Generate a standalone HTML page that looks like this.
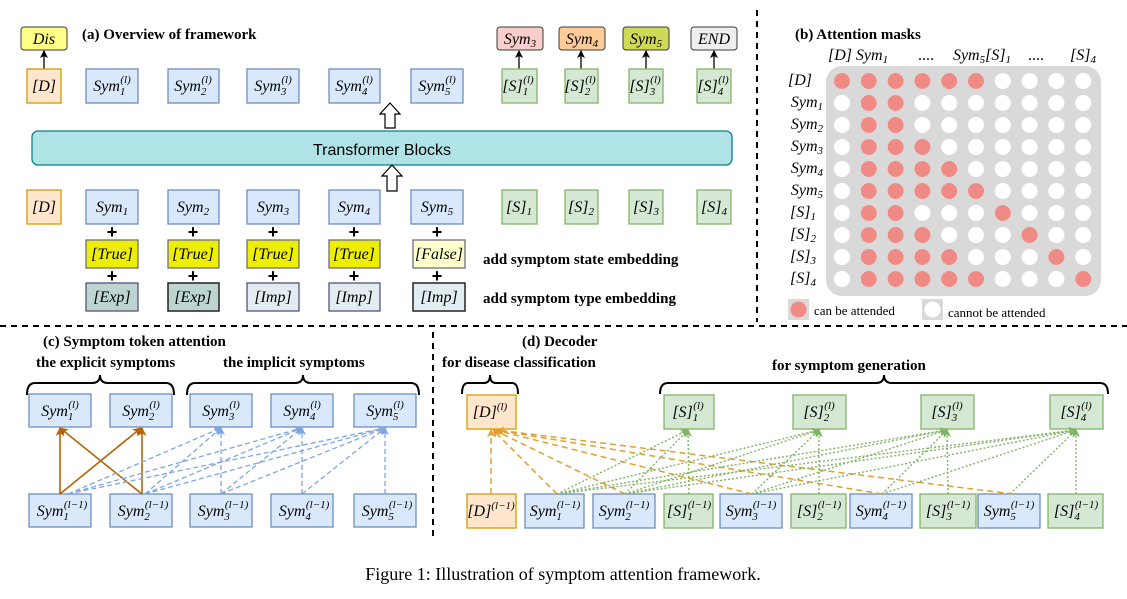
<!DOCTYPE html>
<html><head><meta charset="utf-8"><style>
html,body{margin:0;padding:0;background:#fff}
svg{display:block}
.m{font-family:"Liberation Serif",serif;font-style:italic;font-size:16px;text-anchor:middle}
.s{font-size:11px}
.bt{font-family:"Liberation Serif",serif;font-weight:bold;font-size:15px}
.b{fill:#dae8fc;stroke:#6c8ebf;stroke-width:1.3}
.o{fill:#ffe6cc;stroke:#d79b00;stroke-width:1.3}
.g{fill:#d5e8d4;stroke:#82b366;stroke-width:1.3}
.br{fill:none;stroke:#000;stroke-width:2}
.pk{fill:#ef8a85}
</style></head><body>
<svg width="1127" height="599" viewBox="0 0 1127 599" xmlns="http://www.w3.org/2000/svg">
<defs>
<marker id="ak" markerWidth="8" markerHeight="8" refX="7" refY="4" orient="auto" markerUnits="userSpaceOnUse"><path d="M0,0 L8,4 L0,8 L2,4z" fill="#000"/></marker>
<marker id="abr" markerWidth="9" markerHeight="9" refX="8" refY="4.5" orient="auto" markerUnits="userSpaceOnUse"><path d="M0,0 L9,4.5 L0,9 L2.5,4.5z" fill="#b46504"/></marker>
<marker id="abl" markerWidth="8" markerHeight="8" refX="7" refY="4" orient="auto" markerUnits="userSpaceOnUse"><path d="M0,0 L8,4 L0,8 L2,4z" fill="#7ea6e0"/></marker>
<marker id="aor" markerWidth="8" markerHeight="8" refX="7" refY="4" orient="auto" markerUnits="userSpaceOnUse"><path d="M0,0 L8,4 L0,8 L2,4z" fill="#e0a030"/></marker>
<marker id="agr" markerWidth="8" markerHeight="8" refX="7" refY="4" orient="auto" markerUnits="userSpaceOnUse"><path d="M0,0 L8,4 L0,8 L2,4z" fill="#82b366"/></marker>
<pattern id="wc" patternUnits="userSpaceOnUse" x="828.6" y="70" width="26.8" height="22"><circle cx="13.4" cy="11" r="8" fill="#fff"/></pattern>
</defs>

<line x1="757" y1="10" x2="757" y2="322" stroke="#000" stroke-width="2" stroke-dasharray="6,5"/>
<line x1="0" y1="326" x2="1127" y2="326" stroke="#000" stroke-width="2" stroke-dasharray="6,5"/>
<line x1="433" y1="332" x2="433" y2="537" stroke="#000" stroke-width="2" stroke-dasharray="6,5"/>

<text class="bt" x="82" y="39" font-size="16">(a) Overview of framework</text>
<rect x="21" y="27" width="46" height="23" rx="3" fill="#ffff88" stroke="#36393d"/>
<text class="m" x="44" y="44">Dis</text>
<line x1="44" y1="69" x2="44" y2="51" stroke="#000" stroke-width="1.3" marker-end="url(#ak)"/>

<rect x="497" y="27" width="46" height="23" rx="3" fill="#f8cecc" stroke="#36393d"/>
<text class="m" x="520" y="44">Sym<tspan class="s" dy="3">3</tspan></text>
<rect x="559" y="27" width="46" height="23" rx="3" fill="#ffcc99" stroke="#36393d"/>
<text class="m" x="582" y="44">Sym<tspan class="s" dy="3">4</tspan></text>
<rect x="623" y="27" width="46" height="23" rx="3" fill="#cdd957" stroke="#36393d"/>
<text class="m" x="646" y="44">Sym<tspan class="s" dy="3">5</tspan></text>
<rect x="691" y="27" width="46" height="23" rx="3" fill="#eeeeee" stroke="#36393d"/>
<text class="m" x="714" y="44">END</text>
<g stroke="#000" stroke-width="1.3">
<line x1="519" y1="69" x2="519" y2="51" marker-end="url(#ak)"/>
<line x1="581" y1="69" x2="581" y2="51" marker-end="url(#ak)"/>
<line x1="646" y1="69" x2="646" y2="51" marker-end="url(#ak)"/>
<line x1="714" y1="69" x2="714" y2="51" marker-end="url(#ak)"/>
</g>

<rect class="o" x="27" y="69" width="34" height="34"/>
<text class="m" x="44" y="91" font-style="normal">[<tspan font-style="italic">D</tspan>]</text>
<rect class="b" x="86" y="69" width="52" height="34"/>
<text class="m" x="112" y="91">Sym<tspan class="s" dy="4">1</tspan><tspan class="s" dx="-5" dy="-12">(l)</tspan></text>
<rect class="b" x="168" y="69" width="51" height="34"/>
<text class="m" x="193" y="91">Sym<tspan class="s" dy="4">2</tspan><tspan class="s" dx="-5" dy="-12">(l)</tspan></text>
<rect class="b" x="247" y="69" width="52" height="34"/>
<text class="m" x="273" y="91">Sym<tspan class="s" dy="4">3</tspan><tspan class="s" dx="-5" dy="-12">(l)</tspan></text>
<rect class="b" x="329" y="69" width="51" height="34"/>
<text class="m" x="354" y="91">Sym<tspan class="s" dy="4">4</tspan><tspan class="s" dx="-5" dy="-12">(l)</tspan></text>
<rect class="b" x="411" y="69" width="52" height="34"/>
<text class="m" x="437" y="91">Sym<tspan class="s" dy="4">5</tspan><tspan class="s" dx="-5" dy="-12">(l)</tspan></text>
<rect class="g" x="502" y="69" width="35" height="34"/>
<text class="m" x="518" y="91">[S]<tspan class="s" dy="4">1</tspan><tspan class="s" dx="-5" dy="-12">(l)</tspan></text>
<rect class="g" x="565" y="69" width="33" height="34"/>
<text class="m" x="580" y="91">[S]<tspan class="s" dy="4">2</tspan><tspan class="s" dx="-5" dy="-12">(l)</tspan></text>
<rect class="g" x="629" y="69" width="34" height="34"/>
<text class="m" x="645" y="91">[S]<tspan class="s" dy="4">3</tspan><tspan class="s" dx="-5" dy="-12">(l)</tspan></text>
<rect class="g" x="697" y="69" width="34" height="34"/>
<text class="m" x="713" y="91">[S]<tspan class="s" dy="4">4</tspan><tspan class="s" dx="-5" dy="-12">(l)</tspan></text>

<rect x="32" y="131" width="700" height="34" rx="6" fill="#b0e3e6" stroke="#0e8088" stroke-width="1.3"/>
<text x="382" y="155" text-anchor="middle" font-family="Liberation Sans,sans-serif" font-size="16">Transformer Blocks</text>
<path d="M390,103 L400,114 L395,114 L395,128 L385,128 L385,114 L380,114z" fill="#fff" stroke="#000" stroke-width="1.2"/>
<path d="M392,165 L402,176 L397,176 L397,191 L387,191 L387,176 L382,176z" fill="#fff" stroke="#000" stroke-width="1.2"/>

<rect class="o" x="27" y="190" width="34" height="34"/>
<text class="m" x="44" y="212" font-style="normal">[<tspan font-style="italic">D</tspan>]</text>
<rect class="b" x="86" y="190" width="52" height="34"/>
<text class="m" x="112" y="212">Sym<tspan class="s" dy="3">1</tspan></text>
<rect class="b" x="168" y="190" width="51" height="34"/>
<text class="m" x="193" y="212">Sym<tspan class="s" dy="3">2</tspan></text>
<rect class="b" x="247" y="190" width="52" height="34"/>
<text class="m" x="273" y="212">Sym<tspan class="s" dy="3">3</tspan></text>
<rect class="b" x="329" y="190" width="51" height="34"/>
<text class="m" x="354" y="212">Sym<tspan class="s" dy="3">4</tspan></text>
<rect class="b" x="411" y="190" width="52" height="34"/>
<text class="m" x="437" y="212">Sym<tspan class="s" dy="3">5</tspan></text>
<rect class="g" x="502" y="190" width="35" height="34"/>
<text class="m" x="519" y="212">[S]<tspan class="s" dy="3">1</tspan></text>
<rect class="g" x="565" y="190" width="33" height="34"/>
<text class="m" x="581" y="212">[S]<tspan class="s" dy="3">2</tspan></text>
<rect class="g" x="629" y="190" width="34" height="34"/>
<text class="m" x="646" y="212">[S]<tspan class="s" dy="3">3</tspan></text>
<rect class="g" x="697" y="190" width="34" height="34"/>
<text class="m" x="714" y="212">[S]<tspan class="s" dy="3">4</tspan></text>

<g font-family="Liberation Sans,sans-serif" font-weight="bold" font-size="18" text-anchor="middle">
<text x="112" y="238">+</text><text x="193" y="238">+</text><text x="273" y="238">+</text><text x="354" y="238">+</text><text x="437" y="238">+</text>
<text x="112" y="282">+</text><text x="193" y="282">+</text><text x="273" y="282">+</text><text x="354" y="282">+</text><text x="437" y="282">+</text>
</g>
<g stroke="#6e6e7e" stroke-width="1.3">
<rect x="86" y="240" width="52" height="28" fill="#eeee00"/>
<rect x="168" y="240" width="51" height="28" fill="#eeee00"/>
<rect x="247" y="240" width="52" height="28" fill="#eeee00"/>
<rect x="329" y="240" width="51" height="28" fill="#eeee00"/>
<rect x="413" y="240" width="52" height="28" fill="#ffffcc"/>
</g>
<text class="m" x="112" y="259">[True]</text>
<text class="m" x="193" y="259">[True]</text>
<text class="m" x="273" y="259">[True]</text>
<text class="m" x="354" y="259">[True]</text>
<text class="m" x="439" y="259">[False]</text>
<rect x="86" y="283" width="52" height="28" fill="#bcd5d0" stroke="#56517e" stroke-width="1.3"/>
<rect x="168" y="283" width="51" height="28" fill="#bcd5d0" stroke="#222" stroke-width="1.5"/>
<rect x="247" y="283" width="52" height="28" fill="#e1edf0" stroke="#56517e" stroke-width="1.3"/>
<rect x="329" y="283" width="51" height="28" fill="#e1edf0" stroke="#56517e" stroke-width="1.3"/>
<rect x="413" y="283" width="52" height="28" fill="#e1edf0" stroke="#222" stroke-width="1.5"/>
<text class="m" x="112" y="302">[Exp]</text>
<text class="m" x="193" y="302">[Exp]</text>
<text class="m" x="273" y="302">[Imp]</text>
<text class="m" x="354" y="302">[Imp]</text>
<text class="m" x="439" y="302">[Imp]</text>
<text class="bt" x="483" y="264">add symptom state embedding</text>
<text class="bt" x="483" y="303">add symptom type embedding</text>

<text class="bt" x="795" y="39" font-size="16">(b) Attention masks</text>
<g class="m" font-size="15">
<text x="840" y="60">[D]</text>
<text x="872" y="60">Sym<tspan class="s" dy="3">1</tspan></text>
<text x="926" y="60" font-style="normal">....</text>
<text x="982" y="60">Sym<tspan class="s" dy="3">5</tspan><tspan dy="-3">[S]</tspan><tspan class="s" dy="3">1</tspan></text>
<text x="1036" y="60" font-style="normal">....</text>
<text x="1083" y="60">[S]<tspan class="s" dy="3">4</tspan></text>
</g>
<g class="m" font-size="15" style="text-anchor:end">
<text x="812" y="85">[D]</text>
<text x="823" y="107">Sym<tspan class="s" dy="3">1</tspan></text>
<text x="823" y="129">Sym<tspan class="s" dy="3">2</tspan></text>
<text x="823" y="151">Sym<tspan class="s" dy="3">3</tspan></text>
<text x="823" y="173">Sym<tspan class="s" dy="3">4</tspan></text>
<text x="823" y="195">Sym<tspan class="s" dy="3">5</tspan></text>
<text x="816" y="217">[S]<tspan class="s" dy="3">1</tspan></text>
<text x="816" y="239">[S]<tspan class="s" dy="3">2</tspan></text>
<text x="816" y="261">[S]<tspan class="s" dy="3">3</tspan></text>
<text x="816" y="283">[S]<tspan class="s" dy="3">4</tspan></text>
</g>
<rect x="826" y="66" width="275" height="230" rx="16" fill="#d9d9d9"/>
<rect x="828.6" y="70" width="268" height="220" fill="url(#wc)"/>
<g class="pk">
<circle cx="842" cy="81" r="8"/><circle cx="868.8" cy="81" r="8"/><circle cx="895.6" cy="81" r="8"/><circle cx="922.4" cy="81" r="8"/><circle cx="949.2" cy="81" r="8"/><circle cx="976" cy="81" r="8"/>
<circle cx="868.8" cy="103" r="8"/><circle cx="895.6" cy="103" r="8"/>
<circle cx="868.8" cy="125" r="8"/><circle cx="895.6" cy="125" r="8"/>
<circle cx="868.8" cy="147" r="8"/><circle cx="895.6" cy="147" r="8"/><circle cx="922.4" cy="147" r="8"/>
<circle cx="868.8" cy="169" r="8"/><circle cx="895.6" cy="169" r="8"/><circle cx="922.4" cy="169" r="8"/><circle cx="949.2" cy="169" r="8"/>
<circle cx="868.8" cy="191" r="8"/><circle cx="895.6" cy="191" r="8"/><circle cx="922.4" cy="191" r="8"/><circle cx="949.2" cy="191" r="8"/><circle cx="976" cy="191" r="8"/>
<circle cx="868.8" cy="213" r="8"/><circle cx="895.6" cy="213" r="8"/><circle cx="1002.8" cy="213" r="8"/>
<circle cx="868.8" cy="235" r="8"/><circle cx="895.6" cy="235" r="8"/><circle cx="922.4" cy="235" r="8"/><circle cx="1029.6" cy="235" r="8"/>
<circle cx="868.8" cy="257" r="8"/><circle cx="895.6" cy="257" r="8"/><circle cx="922.4" cy="257" r="8"/><circle cx="949.2" cy="257" r="8"/><circle cx="1056.4" cy="257" r="8"/>
<circle cx="868.8" cy="279" r="8"/><circle cx="895.6" cy="279" r="8"/><circle cx="922.4" cy="279" r="8"/><circle cx="949.2" cy="279" r="8"/><circle cx="976" cy="279" r="8"/><circle cx="1083.2" cy="279" r="8"/>
</g>
<rect x="788" y="299" width="21" height="21" fill="#d9d9d9"/><circle class="pk" cx="798.5" cy="309.5" r="8"/>
<text x="814" y="315" font-family="Liberation Serif,serif" font-size="13">can be attended</text>
<rect x="922" y="299" width="21" height="21" fill="#d9d9d9"/><circle cx="932.5" cy="309.5" r="8" fill="#fff"/>
<text x="948" y="317" font-family="Liberation Serif,serif" font-size="13">cannot be attended</text>

<text class="bt" x="43" y="346" font-size="16">(c) Symptom token attention</text>
<text class="bt" x="36" y="367">the explicit symptoms</text>
<text class="bt" x="223" y="367">the implicit symptoms</text>
<path class="br" d="M27,395 Q27,383 35,383 L92,383 Q100,383 100,375 Q100,383 108,383 L166,383 Q174,383 174,395"/>
<path class="br" d="M187,395 Q187,383 195,383 L295,383 Q303,383 303,375 Q303,383 311,383 L411,383 Q419,383 419,395"/>
<g>
<rect class="b" x="29" y="394" width="62" height="33"/><rect class="b" x="110" y="394" width="62" height="33"/><rect class="b" x="190" y="394" width="62" height="33"/><rect class="b" x="271" y="394" width="62" height="33"/><rect class="b" x="354" y="394" width="62" height="33"/>
<rect class="b" x="29" y="494" width="62" height="33"/><rect class="b" x="110" y="494" width="62" height="33"/><rect class="b" x="190" y="494" width="62" height="33"/><rect class="b" x="271" y="494" width="62" height="33"/><rect class="b" x="354" y="494" width="62" height="33"/>
</g>
<text class="m" x="60" y="416">Sym<tspan class="s" dy="4">1</tspan><tspan class="s" dx="-5" dy="-12">(l)</tspan></text>
<text class="m" x="141" y="416">Sym<tspan class="s" dy="4">2</tspan><tspan class="s" dx="-5" dy="-12">(l)</tspan></text>
<text class="m" x="221" y="416">Sym<tspan class="s" dy="4">3</tspan><tspan class="s" dx="-5" dy="-12">(l)</tspan></text>
<text class="m" x="302" y="416">Sym<tspan class="s" dy="4">4</tspan><tspan class="s" dx="-5" dy="-12">(l)</tspan></text>
<text class="m" x="385" y="416">Sym<tspan class="s" dy="4">5</tspan><tspan class="s" dx="-5" dy="-12">(l)</tspan></text>
<text class="m" x="62" y="516">Sym<tspan class="s" dy="4">1</tspan><tspan class="s" dx="-5" dy="-12">(l−1)</tspan></text>
<text class="m" x="143" y="516">Sym<tspan class="s" dy="4">2</tspan><tspan class="s" dx="-5" dy="-12">(l−1)</tspan></text>
<text class="m" x="223" y="516">Sym<tspan class="s" dy="4">3</tspan><tspan class="s" dx="-5" dy="-12">(l−1)</tspan></text>
<text class="m" x="304" y="516">Sym<tspan class="s" dy="4">4</tspan><tspan class="s" dx="-5" dy="-12">(l−1)</tspan></text>
<text class="m" x="387" y="516">Sym<tspan class="s" dy="4">5</tspan><tspan class="s" dx="-5" dy="-12">(l−1)</tspan></text>
<g stroke="#b46504" stroke-width="1.6" fill="none">
<line x1="60" y1="494" x2="60" y2="428" marker-end="url(#abr)"/>
<line x1="60" y1="494" x2="141" y2="428" marker-end="url(#abr)"/>
<line x1="142" y1="494" x2="142" y2="428" marker-end="url(#abr)"/>
<line x1="142" y1="494" x2="60" y2="428" marker-end="url(#abr)"/>
</g>
<g stroke="#7ea6e0" stroke-width="1.3" stroke-dasharray="5,3" fill="none">
<line x1="68" y1="494" x2="221" y2="428" marker-end="url(#abl)"/>
<line x1="68" y1="494" x2="302" y2="428" marker-end="url(#abl)"/>
<line x1="68" y1="494" x2="385" y2="428" marker-end="url(#abl)"/>
<line x1="145" y1="494" x2="221" y2="428" marker-end="url(#abl)"/>
<line x1="145" y1="494" x2="302" y2="428" marker-end="url(#abl)"/>
<line x1="145" y1="494" x2="385" y2="428" marker-end="url(#abl)"/>
<line x1="221" y1="494" x2="221" y2="428" marker-end="url(#abl)"/>
<line x1="221" y1="494" x2="302" y2="428" marker-end="url(#abl)"/>
<line x1="221" y1="494" x2="385" y2="428" marker-end="url(#abl)"/>
<line x1="302" y1="494" x2="302" y2="428" marker-end="url(#abl)"/>
<line x1="302" y1="494" x2="385" y2="428" marker-end="url(#abl)"/>
<line x1="385" y1="494" x2="385" y2="428" marker-end="url(#abl)"/>
</g>

<text class="bt" x="522" y="346" font-size="16">(d) Decoder</text>
<text class="bt" x="442" y="367">for disease classification</text>
<text class="bt" x="772" y="370">for symptom generation</text>
<path class="br" d="M462,394 Q462,383 468,383 L484,383 Q490,383 490,375 Q490,383 496,383 L512,383 Q518,383 518,394"/>
<path class="br" d="M660,394 Q660,383 668,383 L876,383 Q884,383 884,375 Q884,383 892,383 L1100,383 Q1108,383 1108,394"/>
<rect class="o" x="467" y="395" width="49" height="34"/>
<text class="m" x="490" y="417">[D]<tspan class="s" dy="-7">(l)</tspan></text>
<rect class="g" x="664" y="395" width="50" height="34"/><text class="m" x="688" y="417">[S]<tspan class="s" dy="4">1</tspan><tspan class="s" dx="-5" dy="-12">(l)</tspan></text>
<rect class="g" x="793" y="395" width="53" height="34"/><text class="m" x="819" y="417">[S]<tspan class="s" dy="4">2</tspan><tspan class="s" dx="-5" dy="-12">(l)</tspan></text>
<rect class="g" x="921" y="395" width="53" height="34"/><text class="m" x="947" y="417">[S]<tspan class="s" dy="4">3</tspan><tspan class="s" dx="-5" dy="-12">(l)</tspan></text>
<rect class="g" x="1050" y="395" width="53" height="34"/><text class="m" x="1076" y="417">[S]<tspan class="s" dy="4">4</tspan><tspan class="s" dx="-5" dy="-12">(l)</tspan></text>

<rect class="o" x="467" y="494" width="49" height="34"/><text class="m" x="491" y="516">[D]<tspan class="s" dy="-7">(l−1)</tspan></text>
<rect class="b" x="525" y="494" width="59" height="34"/><text class="m" x="555" y="516">Sym<tspan class="s" dy="4">1</tspan><tspan class="s" dx="-5" dy="-12">(l−1)</tspan></text>
<rect class="b" x="593" y="494" width="62" height="34"/><text class="m" x="624" y="516">Sym<tspan class="s" dy="4">2</tspan><tspan class="s" dx="-5" dy="-12">(l−1)</tspan></text>
<rect class="g" x="664" y="494" width="49" height="34"/><text class="m" x="689" y="516">[S]<tspan class="s" dy="4">1</tspan><tspan class="s" dx="-5" dy="-12">(l−1)</tspan></text>
<rect class="b" x="720" y="494" width="62" height="34"/><text class="m" x="751" y="516">Sym<tspan class="s" dy="4">3</tspan><tspan class="s" dx="-5" dy="-12">(l−1)</tspan></text>
<rect class="g" x="791" y="494" width="55" height="34"/><text class="m" x="819" y="516">[S]<tspan class="s" dy="4">2</tspan><tspan class="s" dx="-5" dy="-12">(l−1)</tspan></text>
<rect class="b" x="850" y="494" width="62" height="34"/><text class="m" x="881" y="516">Sym<tspan class="s" dy="4">4</tspan><tspan class="s" dx="-5" dy="-12">(l−1)</tspan></text>
<rect class="g" x="920" y="494" width="56" height="34"/><text class="m" x="948" y="516">[S]<tspan class="s" dy="4">3</tspan><tspan class="s" dx="-5" dy="-12">(l−1)</tspan></text>
<rect class="b" x="978" y="494" width="62" height="34"/><text class="m" x="1009" y="516">Sym<tspan class="s" dy="4">5</tspan><tspan class="s" dx="-5" dy="-12">(l−1)</tspan></text>
<rect class="g" x="1048" y="494" width="55" height="34"/><text class="m" x="1076" y="516">[S]<tspan class="s" dy="4">4</tspan><tspan class="s" dx="-5" dy="-12">(l−1)</tspan></text>

<g stroke="#e0a030" stroke-width="1.5" stroke-dasharray="6,4" fill="none">
<line x1="491" y1="494" x2="491" y2="430" marker-end="url(#aor)"/>
<line x1="557" y1="494" x2="493" y2="430" marker-end="url(#aor)"/>
<line x1="625" y1="494" x2="494" y2="430" marker-end="url(#aor)"/>
<line x1="752" y1="494" x2="495" y2="430" marker-end="url(#aor)"/>
<line x1="882" y1="494" x2="496" y2="430" marker-end="url(#aor)"/>
<line x1="1013" y1="494" x2="497" y2="430" marker-end="url(#aor)"/>
</g>
<g stroke="#82b366" stroke-width="1.4" stroke-dasharray="2,2" fill="none">
<line x1="557" y1="494" x2="688" y2="430" marker-end="url(#agr)"/>
<line x1="557" y1="494" x2="819" y2="430" marker-end="url(#agr)"/>
<line x1="557" y1="494" x2="947" y2="430" marker-end="url(#agr)"/>
<line x1="557" y1="494" x2="1076" y2="430" marker-end="url(#agr)"/>
<line x1="625" y1="494" x2="688" y2="430" marker-end="url(#agr)"/>
<line x1="625" y1="494" x2="819" y2="430" marker-end="url(#agr)"/>
<line x1="625" y1="494" x2="947" y2="430" marker-end="url(#agr)"/>
<line x1="625" y1="494" x2="1076" y2="430" marker-end="url(#agr)"/>
<line x1="689" y1="494" x2="688" y2="430" marker-end="url(#agr)"/>
<line x1="752" y1="494" x2="819" y2="430" marker-end="url(#agr)"/>
<line x1="752" y1="494" x2="947" y2="430" marker-end="url(#agr)"/>
<line x1="752" y1="494" x2="1076" y2="430" marker-end="url(#agr)"/>
<line x1="819" y1="494" x2="819" y2="430" marker-end="url(#agr)"/>
<line x1="882" y1="494" x2="947" y2="430" marker-end="url(#agr)"/>
<line x1="882" y1="494" x2="1076" y2="430" marker-end="url(#agr)"/>
<line x1="948" y1="494" x2="947" y2="430" marker-end="url(#agr)"/>
<line x1="1010" y1="494" x2="1076" y2="430" marker-end="url(#agr)"/>
<line x1="1076" y1="494" x2="1076" y2="430" marker-end="url(#agr)"/>
</g>

<text x="563" y="580" text-anchor="middle" font-family="Liberation Serif,serif" font-size="18">Figure 1: Illustration of symptom attention framework.</text>
</svg>
</body></html>
